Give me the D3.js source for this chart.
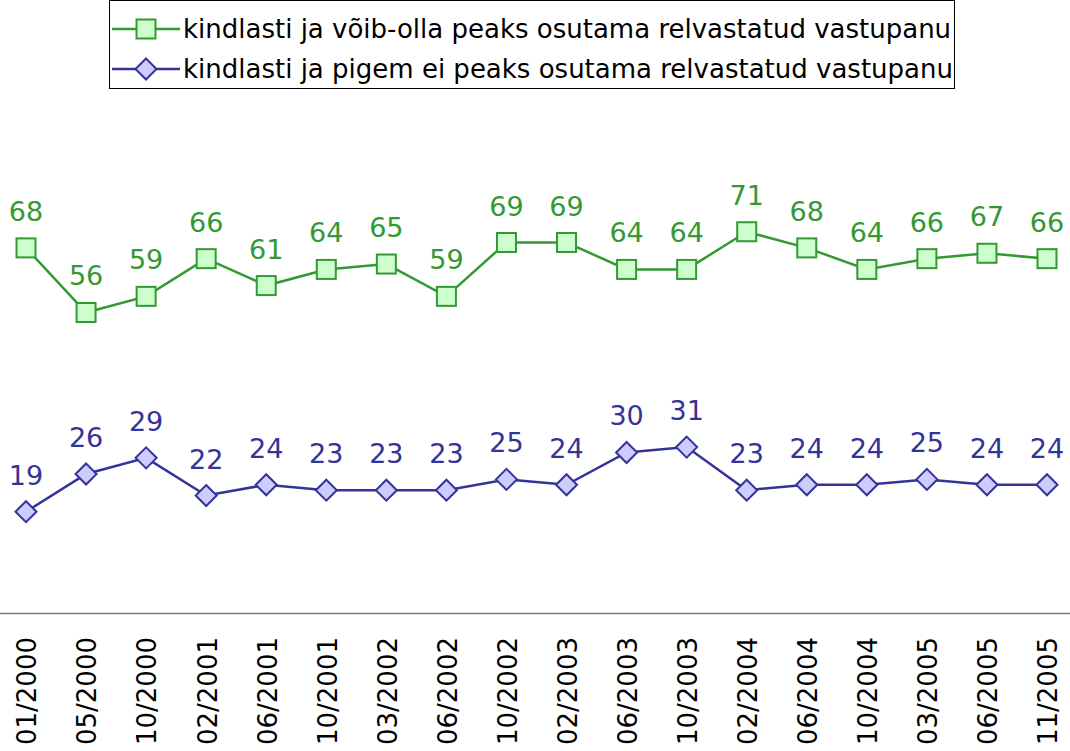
<!DOCTYPE html>
<html>
<head>
<meta charset="utf-8">
<script src="https://cdn.jsdelivr.net/npm/d3@7/dist/d3.min.js"></script>
<style>
  html, body { margin: 0; padding: 0; background: #fff; }
  svg { display: block; font-family: "DejaVu Sans", Verdana, sans-serif; }
</style>
</head>
<body>
<svg id="chart" width="1070" height="751"></svg>
<script>
// Survey waves
const periods = ["01/2000","05/2000","10/2000","02/2001","06/2001","10/2001","03/2002","06/2002",
  "10/2002","02/2003","06/2003","10/2003","02/2004","06/2004","10/2004","03/2005","06/2005","11/2005"];

// Share of respondents (%)
const shouldResist = [68,56,59,66,61,64,65,59,69,69,64,64,71,68,64,66,67,66];
const shouldNotResist = [19,26,29,22,24,23,23,23,25,24,30,31,23,24,24,25,24,24];

const seriesNames = [
  "kindlasti ja võib-olla peaks osutama relvastatud vastupanu",
  "kindlasti ja pigem ei peaks osutama relvastatud vastupanu"
];

const svg = d3.select("#chart");

const x = d3.scalePoint().domain(periods).range([26, 1047]);
const y = d3.scaleLinear().domain([0, 100]).range([614, 75.6]);

const series = [
  { name: seriesNames[0], values: shouldResist, stroke: "#339933", fill: "#ccffcc", shape: "square" },
  { name: seriesNames[1], values: shouldNotResist, stroke: "#333399", fill: "#ccccff", shape: "diamond" }
];

// category axis line
svg.append("line")
  .attr("x1", 0).attr("x2", 1070)
  .attr("y1", 613.5).attr("y2", 613.5)
  .attr("stroke", "#777").attr("stroke-width", 1.5);

// rotated period labels
svg.append("g").selectAll("text")
  .data(periods)
  .join("text")
  .attr("transform", d => `translate(${x(d) + 1},637) rotate(-90)`)
  .attr("text-anchor", "end")
  .attr("dy", "0.36em")
  .attr("font-size", 26)
  .attr("fill", "#000")
  .text(d => d);

function drawMarker(g, shape, cx, cy, stroke, fill) {
  if (shape === "square") {
    g.append("rect")
      .attr("x", cx - 9.5).attr("y", cy - 9.5)
      .attr("width", 19).attr("height", 19)
      .attr("fill", fill).attr("stroke", stroke).attr("stroke-width", 2);
  } else {
    const r = 10.5;
    g.append("path")
      .attr("d", `M${cx},${cy - r}L${cx + r},${cy}L${cx},${cy + r}L${cx - r},${cy}Z`)
      .attr("fill", fill).attr("stroke", stroke).attr("stroke-width", 2);
  }
}

const line = d3.line().x((d, i) => x(periods[i])).y(d => y(d));

series.forEach(s => {
  const g = svg.append("g");
  g.append("path")
    .attr("d", line(s.values))
    .attr("fill", "none")
    .attr("stroke", s.stroke)
    .attr("stroke-width", 2.5);
  s.values.forEach((v, i) => drawMarker(g, s.shape, x(periods[i]), y(v), s.stroke, s.fill));
  g.selectAll("text.val")
    .data(s.values)
    .join("text")
    .attr("class", "val")
    .attr("x", (d, i) => x(periods[i]))
    .attr("y", d => y(d) - 27)
    .attr("text-anchor", "middle")
    .attr("font-size", 27)
    .attr("fill", s.stroke)
    .text(d => d);
});

// legend
const legend = svg.append("g");
legend.append("rect")
  .attr("x", 109.5).attr("y", 0.5)
  .attr("width", 845).attr("height", 88)
  .attr("fill", "#fff").attr("stroke", "#000").attr("stroke-width", 1);

series.forEach((s, i) => {
  const ly = 29 + i * 40;
  const lg = legend.append("g");
  lg.append("line")
    .attr("x1", 112).attr("x2", 180)
    .attr("y1", ly).attr("y2", ly)
    .attr("stroke", s.stroke).attr("stroke-width", 2.5);
  drawMarker(lg, s.shape, 146, ly, s.stroke, s.fill);
  lg.append("text")
    .attr("x", 183).attr("y", ly)
    .attr("dy", "0.36em")
    .attr("font-size", 26)
    .attr("fill", "#000")
    .text(s.name);
});
</script>
</body>
</html>
